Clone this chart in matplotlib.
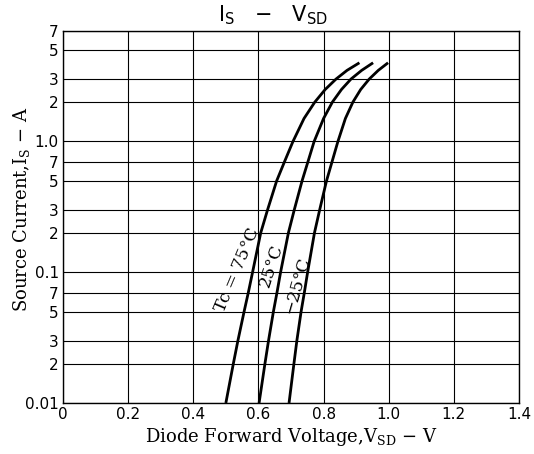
import matplotlib
matplotlib.use("Agg")
import matplotlib.pyplot as plt
import numpy as np

# Source current (A)
current = [0.01, 0.02, 0.03, 0.05, 0.07, 0.1, 0.2, 0.3, 0.5, 0.7, 1.0, 1.5, 2.0, 2.5, 3.0, 3.5, 4.0]
# Forward voltage (V) per case temperature
v_75 = [0.500, 0.523, 0.537, 0.556, 0.569, 0.582, 0.607, 0.628, 0.656, 0.680, 0.706,
        0.740, 0.773, 0.805, 0.838, 0.872, 0.910]
v_25 = [0.602, 0.620, 0.631, 0.646, 0.657, 0.668, 0.692, 0.710, 0.734, 0.752, 0.771,
        0.800, 0.827, 0.855, 0.884, 0.917, 0.952]
v_m25 = [0.694, 0.709, 0.718, 0.731, 0.741, 0.751, 0.772, 0.788, 0.809, 0.826, 0.844,
         0.867, 0.890, 0.914, 0.940, 0.968, 0.998]

x_ticks = [0, 0.2, 0.4, 0.6, 0.8, 1.0, 1.2, 1.4]
x_tick_labels = ["0", "0.2", "0.4", "0.6", "0.8", "1.0", "1.2", "1.4"]
y_ticks = [0.01, 0.02, 0.03, 0.05, 0.07, 0.1, 0.2, 0.3, 0.5, 0.7, 1.0, 2, 3, 5, 7]
y_tick_labels = ["0.01", "2", "3", "5", "7", "0.1", "2", "3", "5", "7", "1.0", "2", "3", "5", "7"]

fig = plt.figure(figsize=(5.34, 4.54), dpi=100)
ax = fig.add_axes([63/534, 1-403/454, 456/534, 372/454])

ax.set_yscale("log")
ax.set_xlim(0, 1.4)
ax.set_ylim(0.01, 7)

ax.set_xticks(x_ticks)
ax.set_xticklabels(x_tick_labels, fontsize=11, family="DejaVu Sans")
ax.set_yticks(y_ticks)
ax.set_yticklabels(y_tick_labels, fontsize=11, family="DejaVu Sans")
ax.yaxis.set_minor_locator(matplotlib.ticker.NullLocator())
ax.tick_params(axis="both", length=0, pad=3)
ax.grid(True, color="black", lw=0.8)
for s in ax.spines.values():
    s.set_linewidth(1.0)

for v in (v_75, v_25, v_m25):
    ax.plot(v, current, color="black", lw=2.0, solid_capstyle="butt",
            solid_joinstyle="round")

ax.text(0.535, 0.105, "Tc = 75°C", rotation=67, ha="center", va="center",
        fontsize=12.5, family="DejaVu Serif")
ax.text(0.640, 0.112, "25°C", rotation=72, ha="center", va="center",
        fontsize=12.5, family="DejaVu Serif")
ax.text(0.719, 0.0786, "−25°C", rotation=74, ha="center", va="center",
        fontsize=12.5, family="DejaVu Serif")

ax.set_xlabel(r"Diode Forward Voltage,V$_{\mathregular{SD}}$ − V", fontsize=13,
              family="DejaVu Serif", labelpad=3)
ax.set_ylabel(r"Source Current,I$_{\mathregular{S}}$ − A", fontsize=13,
              family="DejaVu Serif")
ax.yaxis.set_label_coords(-0.068, 0.52)

fig.text(273/534, 1-15/454, r"I$_{\mathregular{S}}$   −   V$_{\mathregular{SD}}$",
         ha="center", va="center", fontsize=15, family="DejaVu Sans")

fig.savefig("out.png", dpi=100)
